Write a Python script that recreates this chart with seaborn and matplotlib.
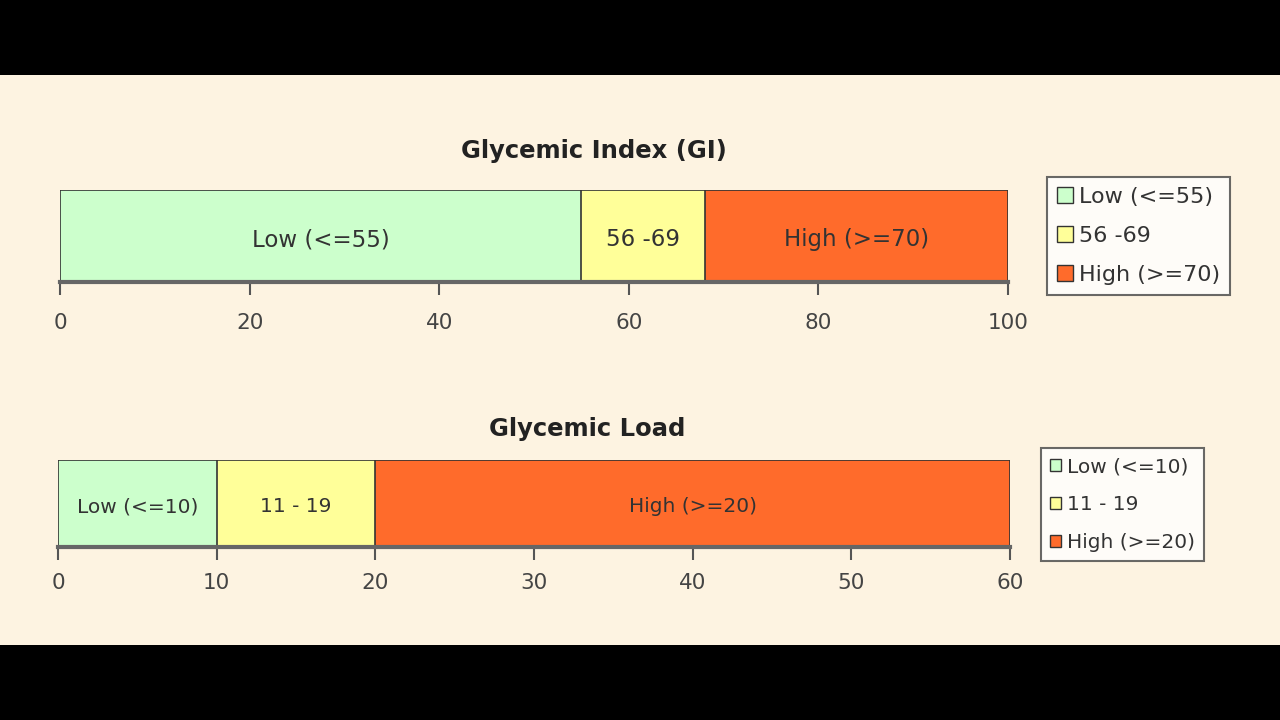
import numpy as np
import pandas as pd
import matplotlib
matplotlib.use("Agg")
import matplotlib.pyplot as plt
import seaborn as sns
from matplotlib.patches import Rectangle, Patch

# data
gi_labels = ["Low (<=55)", "56 -69", "High (>=70)"]
gi_values = [55, 13, 32]
gi_ticks = [0, 20, 40, 60, 80, 100]

gl_labels = ["Low (<=10)", "11 - 19", "High (>=20)"]
gl_values = [10, 10, 40]
gl_ticks = [0, 10, 20, 30, 40, 50, 60]

colors = ["#CCFFCC", "#FFFF99", "#FF6B2B"]
bg = "#FDF3E1"

sns.set_style("white")
plt.rcParams["font.family"] = ["DejaVu Sans"]

fig = plt.figure(figsize=(12.8, 7.2), dpi=100, facecolor="black")
fig.patches.append(Rectangle((0, 75/720), 1, 570/720, transform=fig.transFigure,
                             facecolor=bg, edgecolor="none", zorder=-10))


def stacked(ax, labels, values, ticks, title, title_x, title_pad, fs_in, fs_leg,
            leg_xy, lspace, hsize, tpad):
    ends = np.cumsum(values)
    starts = ends - np.array(values)
    # draw the cumulative totals largest first so each segment sits on top
    for i in range(len(values) - 1, -1, -1):
        df = pd.DataFrame({"cat": ["x"], "val": [ends[i]]})
        sns.barplot(data=df, x="val", y="cat", orient="h", color=colors[i],
                    width=1.0, edgecolor="#333333", linewidth=1.2,
                    saturation=1, ax=ax)
    for s, v, lab in zip(starts, values, labels):
        ax.text(s + v / 2, 0.04, lab, ha="center", va="center",
                fontsize=fs_in, color="#333333")
    ax.set_xlim(0, ticks[-1])
    ax.set_ylim(0.5, -0.5)
    ax.set_xticks(ticks)
    ax.set_xticklabels([str(t) for t in ticks], fontsize=15.5, color="#444444")
    ax.tick_params(axis="x", direction="out", length=9, width=1.5,
                   color="#555555", bottom=True, pad=tpad)
    ax.set_yticks([])
    ax.set_xlabel("")
    ax.set_ylabel("")
    ax.set_facecolor(bg)
    for side in ["top", "right", "left"]:
        ax.spines[side].set_visible(False)
    ax.spines["bottom"].set_color("#666666")
    ax.spines["bottom"].set_linewidth(3)
    ax.set_title(title, x=title_x, fontsize=17.5, fontweight="bold",
                 color="#222222", pad=title_pad)
    handles = [Patch(facecolor=c, edgecolor="#333333", linewidth=1) for c in colors]
    leg = fig.legend(handles, labels, loc="upper left", bbox_to_anchor=leg_xy,
                     bbox_transform=fig.transFigure, fontsize=fs_leg,
                     frameon=True, fancybox=False, borderaxespad=0,
                     handlelength=hsize, handleheight=hsize, handletextpad=0.3,
                     labelspacing=lspace, borderpad=0.45, labelcolor="#333333")
    leg.get_frame().set_edgecolor("#444444")
    leg.get_frame().set_linewidth(1.5)
    leg.get_frame().set_facecolor("white")


ax1 = fig.add_axes([60/1280, (720-282)/720, 948/1280, 92/720])
stacked(ax1, gi_labels, gi_values, gi_ticks, "Glycemic Index (GI)", 0.563, 23,
        16.5, 16, (1047/1280, (720-177)/720), 0.85, 0.7, 13)

ax2 = fig.add_axes([58/1280, (720-547)/720, 952/1280, 87/720])
stacked(ax2, gl_labels, gl_values, gl_ticks, "Glycemic Load", 0.556, 17,
        14.5, 14.5, (1041/1280, (720-448)/720), 0.95, 0.55, 10)

fig.savefig("out.png", dpi=100, facecolor=fig.get_facecolor())
